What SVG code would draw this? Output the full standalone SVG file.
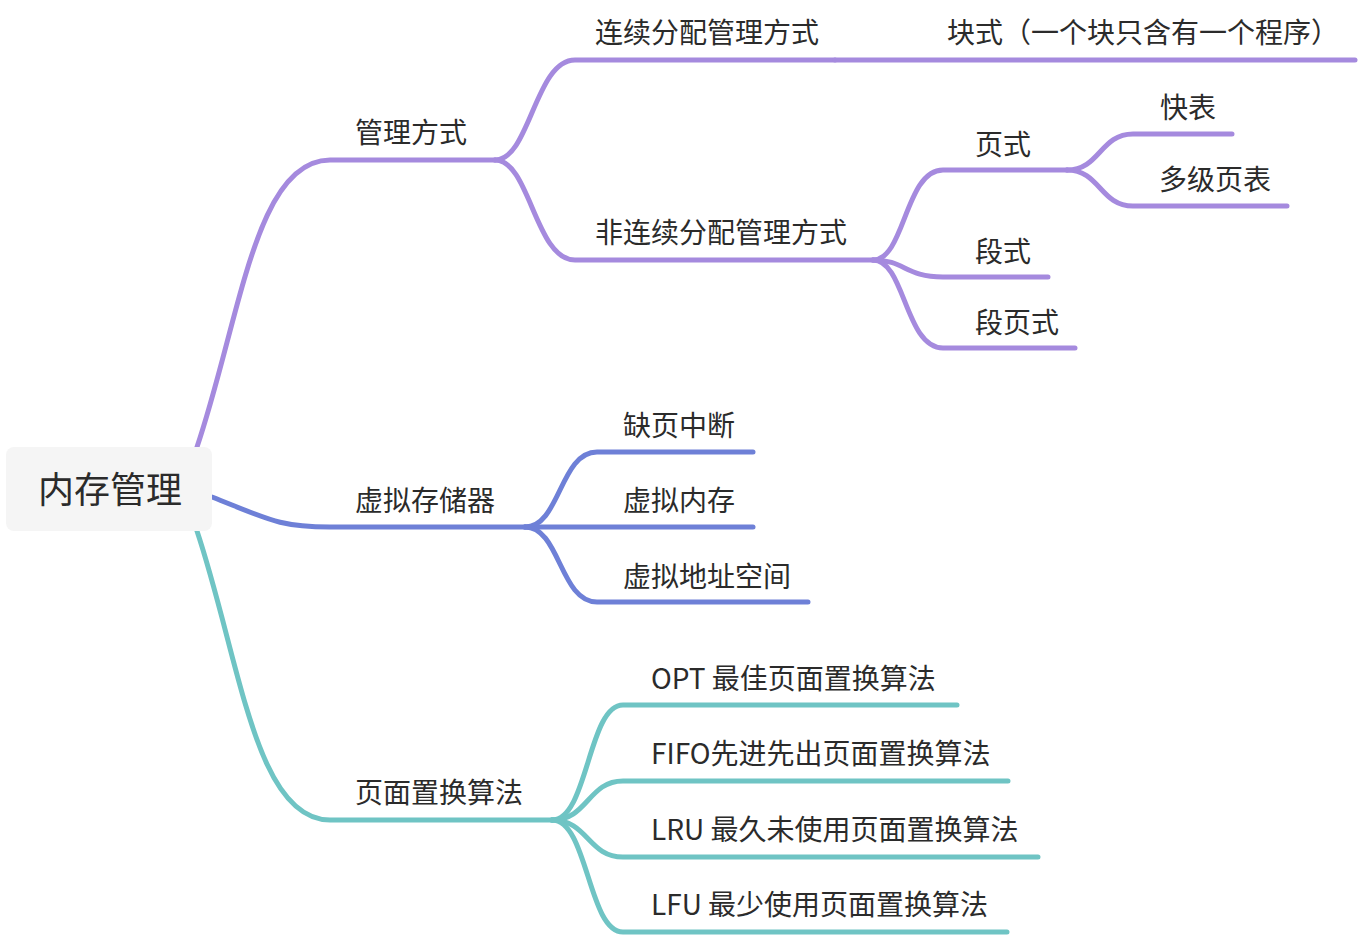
<svg xmlns="http://www.w3.org/2000/svg" width="1360" height="936" viewBox="0 0 1360 936">
<style>
.l{fill:none;stroke-width:5;stroke-linecap:round;stroke-linejoin:round}
.p{stroke:#a58ade}
.b{stroke:#6e80d7}
.t{stroke:#6fc4c4}
text{font-family:"Noto Sans CJK SC","Noto Sans",sans-serif;fill:#2b2b2b;font-size:28px}
text.root{font-size:36px}
</style>
<rect width="1360" height="936" fill="#ffffff"/>
<g id="connectors">
<path class="l p" d="M197,447 C240,320 255,160 330,160 L495,160"/>
<path class="l p" d="M495,160 C530,160 535,60 575,60 L835,60"/>
<path class="l p" d="M835,60 L1355,60"/>
<path class="l p" d="M495,160 C530,160 535,260 575,260 L873,260"/>
<path class="l p" d="M873,260 C905,260 905,170 943,170 L1067,170"/>
<path class="l p" d="M873,260 C905,260 905,277 943,277 L1048,277"/>
<path class="l p" d="M873,260 C905,260 905,348 943,348 L1075,348"/>
<path class="l p" d="M1067,170 C1100,170 1100,134 1133,134 L1232,134"/>
<path class="l p" d="M1067,170 C1100,170 1100,206 1133,206 L1287,206"/>
<path class="l b" d="M212,497 C270,520 280,527 330,527 L525,527"/>
<path class="l b" d="M525,527 C560,527 560,452 597,452 L753,452"/>
<path class="l b" d="M525,527 L753,527"/>
<path class="l b" d="M525,527 C560,527 560,602 597,602 L808,602"/>
<path class="l t" d="M197,531 C240,660 255,820 330,820 L552,820"/>
<path class="l t" d="M552,820 C588,820 588,705 623,705 L957,705"/>
<path class="l t" d="M552,820 C588,820 588,781 623,781 L1008,781"/>
<path class="l t" d="M552,820 C588,820 588,857 623,857 L1038,857"/>
<path class="l t" d="M552,820 C588,820 588,932 623,932 L1007,932"/>
</g>
<g id="root">
<rect x="6" y="447" width="206" height="84" rx="8" fill="#f5f5f5"/>
<text class="root" x="110" y="503" text-anchor="middle">内存管理</text>
</g>
<g id="n1"><text x="355" y="143">管理方式</text></g>
<g id="n11"><text x="595" y="43">连续分配管理方式</text></g>
<g id="n111"><text x="947" y="43">块式（一个块只含有一个程序）</text></g>
<g id="n12"><text x="595" y="243">非连续分配管理方式</text></g>
<g id="n121"><text x="975" y="155">页式</text></g>
<g id="n1211"><text x="1160" y="118">快表</text></g>
<g id="n1212"><text x="1159" y="190">多级页表</text></g>
<g id="n122"><text x="975" y="262">段式</text></g>
<g id="n123"><text x="975" y="333">段页式</text></g>
<g id="n2"><text x="355" y="511">虚拟存储器</text></g>
<g id="n21"><text x="623" y="436">缺页中断</text></g>
<g id="n22"><text x="623" y="511">虚拟内存</text></g>
<g id="n23"><text x="623" y="587">虚拟地址空间</text></g>
<g id="n3"><text x="355" y="803">页面置换算法</text></g>
<g id="n31"><text x="651" y="689">OPT 最佳页面置换算法</text></g>
<g id="n32"><text x="651" y="764">FIFO先进先出页面置换算法</text></g>
<g id="n33"><text x="651" y="840">LRU 最久未使用页面置换算法</text></g>
<g id="n34"><text x="651" y="915">LFU 最少使用页面置换算法</text></g>
</svg>
